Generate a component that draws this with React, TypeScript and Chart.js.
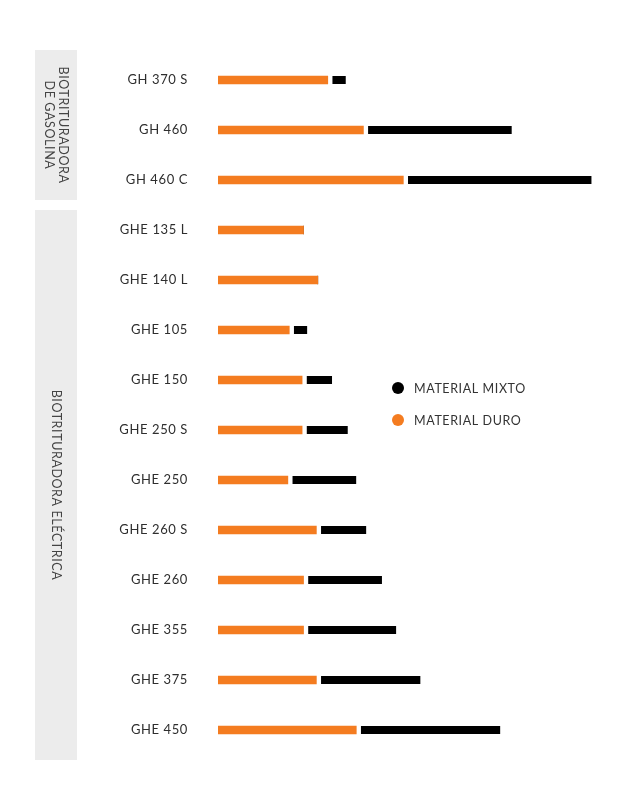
import { useEffect, useRef } from "react"
import { Chart, registerables, type ChartConfiguration, type Plugin } from "chart.js"

Chart.register(...registerables)

// Models, top to bottom
const models = [
  "GH 370 S",
  "GH 460",
  "GH 460 C",
  "GHE 135 L",
  "GHE 140 L",
  "GHE 105",
  "GHE 150",
  "GHE 250 S",
  "GHE 250",
  "GHE 260 S",
  "GHE 260",
  "GHE 355",
  "GHE 375",
  "GHE 450",
]

// Hard material (orange segment)
const duro = [38.5, 51, 65, 30, 35, 25, 29.5, 29.5, 24.5, 34.5, 30, 30, 34.5, 48.5]
// Mixed material (black segment, stacked after the orange one)
const mixto = [6.3, 52, 66, 0, 0, 6.3, 10.5, 16, 24, 17.5, 27.5, 32.5, 36.5, 50.5]

const seriesLabels = ["MATERIAL DURO", "MATERIAL MIXTO"]
const seriesColors = ["#f47c20", "#000000"]

// Side groups: how many models each one holds, and its label lines
const groupSizes = [3, 11]
const groupLabels = [["BIOTRITURADORA", "DE GASOLINA"], ["BIOTRITURADORA ELÉCTRICA"]]

const FONT = "Lato, 'Noto Sans', sans-serif"

const letterSpacing: Plugin<"bar"> = {
  id: "letterSpacing",
  beforeUpdate(chart) {
    ;(chart.ctx as any).letterSpacing = "0.6px"
  },
}

const groupBoxes: Plugin<"bar"> = {
  id: "groupBoxes",
  beforeDraw(chart) {
    const { ctx, chartArea } = chart
    const y = chart.scales.y
    const step = (chartArea.bottom - chartArea.top) / models.length
    const last = models.length - 1
    let start = 0
    ctx.save()
    groupSizes.forEach((size, g) => {
      const end = start + size - 1
      const top = y.getPixelForValue(start) - step / 2 + (start === 0 ? -5 : 5)
      const bottom = y.getPixelForValue(end) + step / 2 + (end === last ? 5 : -5)
      ctx.fillStyle = "#ececec"
      ctx.fillRect(35, top, 42, bottom - top)

      const lines = groupLabels[g]
      const lh = 14
      ctx.save()
      ctx.translate(56, (top + bottom) / 2)
      ctx.rotate(Math.PI / 2)
      ctx.fillStyle = "#444"
      ctx.font = `12.5px ${FONT}`
      ctx.textAlign = "center"
      ctx.textBaseline = "middle"
      lines.forEach((line, i) => {
        ctx.fillText(line, 0, (i - (lines.length - 1) / 2) * lh)
      })
      ctx.restore()
      start += size
    })
    ctx.restore()
  },
}

const sideLegend: Plugin<"bar"> = {
  id: "sideLegend",
  afterDraw(chart) {
    const { ctx } = chart
    const datasets = chart.data.datasets
    ctx.save()
    ctx.font = `12.5px ${FONT}`
    ctx.textBaseline = "middle"
    ctx.textAlign = "left"
    // mixed first, then hard
    ;[1, 0].forEach((di, k) => {
      const cy = 388 + k * 32
      ctx.beginPath()
      ctx.arc(398, cy, 6, 0, Math.PI * 2)
      ctx.fillStyle = datasets[di].backgroundColor as string
      ctx.fill()
      ctx.fillStyle = "#333"
      ctx.fillText(datasets[di].label as string, 414, cy + 1)
    })
    ctx.restore()
  },
}

function ShredderChart() {
  const chartRef = useRef<HTMLCanvasElement>(null)
  const chartInstance = useRef<Chart | null>(null)

  useEffect(() => {
    if (!chartRef.current) return
    if (chartInstance.current) chartInstance.current.destroy()

    const config: ChartConfiguration<"bar"> = {
      type: "bar",
      data: {
        labels: models,
        datasets: [
          {
            label: seriesLabels[0],
            data: duro,
            backgroundColor: seriesColors[0],
            borderWidth: 0,
            barThickness: 8,
          },
          {
            label: seriesLabels[1],
            data: mixto,
            backgroundColor: seriesColors[1],
            borderColor: "#ffffff",
            borderSkipped: false,
            borderWidth: { left: 5, right: 0, top: 0, bottom: 0 },
            barThickness: 8,
          },
        ],
      },
      options: {
        indexAxis: "y",
        responsive: false,
        animation: false,
        layout: { padding: { top: 55, bottom: 55, left: 0, right: 0 } },
        scales: {
          x: {
            stacked: true,
            display: false,
            min: 0,
            max: 148,
          },
          y: {
            stacked: true,
            grid: { display: false, drawTicks: false },
            border: { display: false },
            ticks: {
              color: "#2e2e2e",
              padding: 30,
              font: { family: FONT, size: 13 },
            },
            afterFit: (scale) => {
              scale.width = 218
            },
          },
        },
        plugins: {
          legend: { display: false },
          tooltip: { enabled: false },
        },
      },
      plugins: [letterSpacing, groupBoxes, sideLegend],
    }

    chartInstance.current = new Chart(chartRef.current, config)

    return () => {
      if (chartInstance.current) {
        chartInstance.current.destroy()
        chartInstance.current = null
      }
    }
  }, [])

  return <canvas ref={chartRef} width={640} height={810} />
}

export default function App() {
  return (
    <div style={{ position: "fixed", left: 0, top: 0, width: 640, height: 810, background: "#fff" }}>
      <ShredderChart />
    </div>
  )
}
